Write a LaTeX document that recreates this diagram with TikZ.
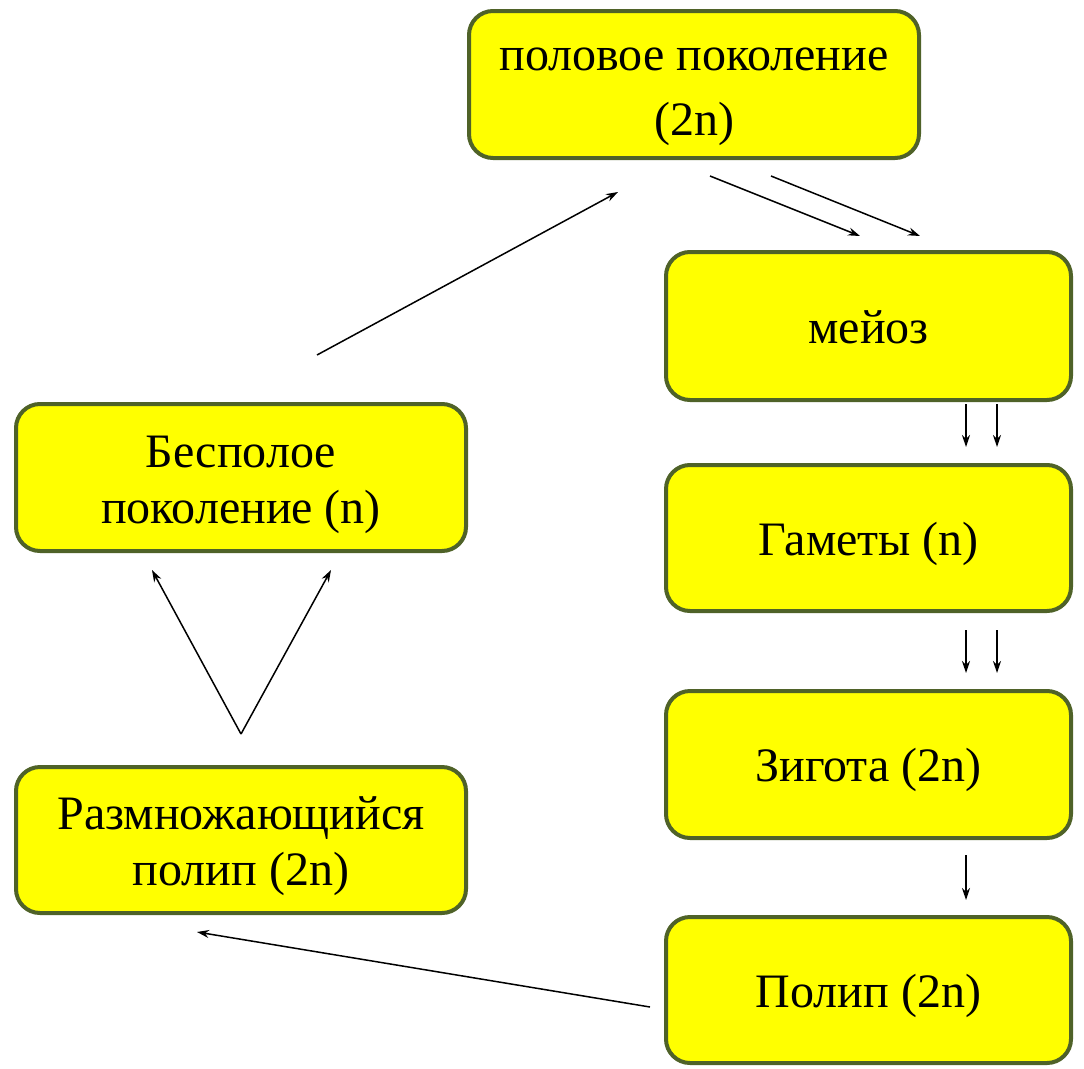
\documentclass[tikz,border=0pt]{standalone}
\usepackage{fontspec}
\setmainfont{Liberation Serif}
\usetikzlibrary{arrows.meta}
\definecolor{boxline}{HTML}{4F6228}
\definecolor{boxfill}{HTML}{FFFF00}
% struts that fix where the lines sit inside a box
\newcommand{\upstrut}[1]{\rule{0pt}{#1}}
\newcommand{\downstrut}{\rule[-12pt]{0pt}{12pt}}
\tikzset{
  stagebox/.style={rectangle, fill=boxfill, draw=boxline, line width=4pt, rounded corners=24pt,
    minimum width=450pt, align=center, font=\fontsize{48}{56}\selectfont},
  narrowbox/.style={stagebox, minimum width=405pt},
  cyclearrow/.style={-{Stealth[length=12pt,width=8pt]}, line width=1.5pt}
}
\begin{document}
\begin{tikzpicture}[x=1pt,y=-1pt]
\useasboundingbox (0,0) rectangle (1084,1068);
% boxes
\node[stagebox, minimum height=147pt, font=\fontsize{48}{65}\selectfont] (polovoe) at (694,84.5)
  {\upstrut{48pt}половое поколение\\(2n)\downstrut};
\node[narrowbox, minimum height=148pt] (meioz) at (868.5,326) {\upstrut{46pt}мейоз\downstrut};
\node[narrowbox, minimum height=146pt] (gamety) at (868.5,538) {\upstrut{46pt}Гаметы (n)\downstrut};
\node[narrowbox, minimum height=147pt] (zigota) at (868.5,764.5) {\upstrut{46pt}Зигота (2n)\downstrut};
\node[narrowbox, minimum height=146pt] (polip) at (868.5,990) {\upstrut{46pt}Полип (2n)\downstrut};
\node[stagebox, minimum height=147pt] (bespol) at (241,477.5) {\upstrut{47pt}Бесполое\\поколение (n)\downstrut};
\node[stagebox, minimum height=146pt] (razmn) at (241,840) {\upstrut{47pt}Размножающийся\\полип (2n)\downstrut};
% arrow ends
\coordinate (bespolOut) at (317,355);
\coordinate (polovoeIn) at (618,192);
\coordinate (polovoeOutA) at (710,176);
\coordinate (polovoeOutB) at (771,176);
\coordinate (meiozInA) at (860,236);
\coordinate (meiozInB) at (920,236);
\coordinate (meiozOutA) at (966,404);
\coordinate (meiozOutB) at (997,404);
\coordinate (gametyInA) at (966,447);
\coordinate (gametyInB) at (997,447);
\coordinate (gametyOutA) at (966,630);
\coordinate (gametyOutB) at (997,630);
\coordinate (zigotaInA) at (966,673);
\coordinate (zigotaInB) at (997,673);
\coordinate (zigotaOut) at (966,855);
\coordinate (polipIn) at (966,900);
\coordinate (polipOut) at (650,1007);
\coordinate (razmnIn) at (197,932);
\coordinate (razmnTop) at (241,734);
\coordinate (bespolInA) at (152,570);
\coordinate (bespolInB) at (331,570);
% connectors
\draw[cyclearrow] (bespolOut) -- (polovoeIn);
\draw[cyclearrow] (polovoeOutA) -- (meiozInA);
\draw[cyclearrow] (polovoeOutB) -- (meiozInB);
\draw[cyclearrow] (meiozOutA) -- (gametyInA);
\draw[cyclearrow] (meiozOutB) -- (gametyInB);
\draw[cyclearrow] (gametyOutA) -- (zigotaInA);
\draw[cyclearrow] (gametyOutB) -- (zigotaInB);
\draw[cyclearrow] (zigotaOut) -- (polipIn);
\draw[cyclearrow] (polipOut) -- (razmnIn);
\draw[cyclearrow] (razmnTop) -- (bespolInA);
\draw[cyclearrow] (razmnTop) -- (bespolInB);
\end{tikzpicture}
\end{document}
